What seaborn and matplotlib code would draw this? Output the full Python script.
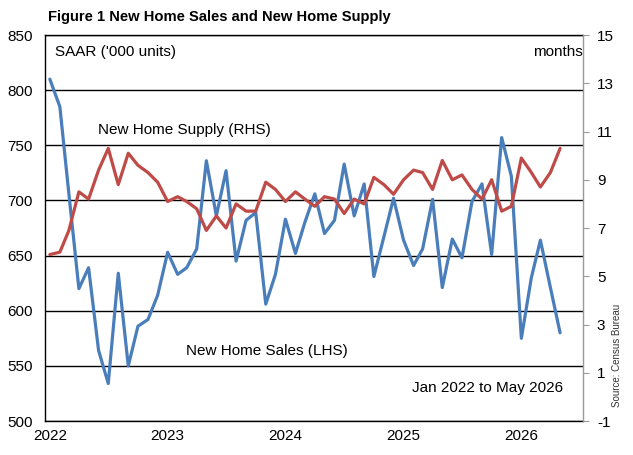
import numpy as np
import pandas as pd
import matplotlib
matplotlib.use("Agg")
import matplotlib.pyplot as plt
import seaborn as sns

# Monthly data, Jan 2022 to May 2026
months = pd.date_range("2022-01-01", periods=53, freq="MS")
sales = [810, 785, 706, 620, 639, 564, 534, 634, 550, 586, 592, 614,
         653, 633, 639, 656, 736, 686, 727, 645, 682, 689, 606, 633,
         683, 652, 680, 706, 670, 682, 733, 686, 715, 631, 667, 702,
         664, 641, 656, 701, 621, 665, 648, 699, 715, 651, 757, 722,
         575, 630, 664, 621, 580]
supply = [5.9, 6.0, 6.9, 8.5, 8.2, 9.4, 10.3, 8.8, 10.1, 9.6, 9.3, 8.9,
          8.1, 8.3, 8.1, 7.8, 6.9, 7.5, 7.0, 8.0, 7.7, 7.7, 8.9, 8.6,
          8.1, 8.5, 8.2, 7.9, 8.3, 8.2, 7.6, 8.2, 8.0, 9.1, 8.8, 8.4,
          9.0, 9.4, 9.3, 8.6, 9.8, 9.0, 9.2, 8.6, 8.2, 9.0, 7.7, 7.9,
          9.9, 9.3, 8.7, 9.3, 10.3]
left_ticks = [500, 550, 600, 650, 700, 750, 800, 850]
right_ticks = [-1, 1, 3, 5, 7, 9, 11, 13, 15]
year_ticks = ["2022", "2023", "2024", "2025", "2026"]

df = pd.DataFrame({"month": months, "sales": sales, "supply": supply})

BLUE = "#4A7EBB"
RED = "#BE4B48"

sns.set_style("white")
plt.rcParams["font.family"] = ["Liberation Sans", "DejaVu Sans"]
plt.rcParams["axes.unicode_minus"] = False
plt.rcParams["text.color"] = "black"

fig = plt.figure(figsize=(6.33, 4.55), dpi=100)
ax = fig.add_axes([0.0711, 0.0747, 0.8499, 0.8483])
ax2 = ax.twinx()

sns.lineplot(data=df, x="month", y="sales", ax=ax, color=BLUE, linewidth=2.3, zorder=3)
sns.lineplot(data=df, x="month", y="supply", ax=ax2, color=RED, linewidth=2.3, zorder=3)

# left axis
ax.set_ylim(500, 850)
ax.set_yticks(left_ticks)
ax.yaxis.grid(True, color="black", linewidth=1.0)
ax.set_axisbelow(True)
ax.tick_params(axis="y", length=0, pad=9, labelsize=11, labelcolor="black")
ax.set_xlim(pd.Timestamp("2021-12-17"), pd.Timestamp("2026-07-11"))
ax.set_xticks([pd.Timestamp(f"{y}-01-01") for y in year_ticks])
ax.set_xticklabels(year_ticks)
ax.tick_params(axis="x", length=0, pad=6, labelsize=11, labelcolor="black")
ax.set_xlabel("")
ax.set_ylabel("")

# right axis
ax2.set_ylim(-1, 15)
ax2.set_yticks(right_ticks)
ax2.tick_params(axis="y", length=4, width=0.8, color="#999999", pad=6,
                labelsize=11, labelcolor="black")
ax2.set_ylabel("")
ax2.grid(False)

for name, sp in ax.spines.items():
    sp.set_color("black")
    sp.set_linewidth(1.0)
for name, sp in ax2.spines.items():
    sp.set_visible(name == "right")
ax2.spines["right"].set_color("#999999")
ax2.spines["right"].set_linewidth(1.0)
ax.spines["right"].set_visible(False)

# annotations
ax.text(0.018, 0.955, "SAAR ('000 units)", transform=ax.transAxes,
        fontsize=11, va="center", ha="left")
ax.text(1.0, 0.955, "months", transform=ax.transAxes,
        fontsize=11, va="center", ha="right")
ax.text(0.098, 0.755, "New Home Supply (RHS)", transform=ax.transAxes,
        fontsize=11, va="center", ha="left")
ax.text(0.262, 0.182, "New Home Sales (LHS)", transform=ax.transAxes,
        fontsize=11, va="center", ha="left")
ax.text(0.963, 0.085, "Jan 2022 to May 2026", transform=ax.transAxes,
        fontsize=11, va="center", ha="right")
fig.text(0.975, 0.105, "Source: Census Bureau", rotation=90, color="#333333",
         fontsize=7, va="bottom", ha="center")
fig.text(0.076, 0.962, "Figure 1 New Home Sales and New Home Supply",
         fontsize=10.6, fontweight="bold", va="center", ha="left")

fig.savefig("out.png", dpi=100)
plt.close(fig)
